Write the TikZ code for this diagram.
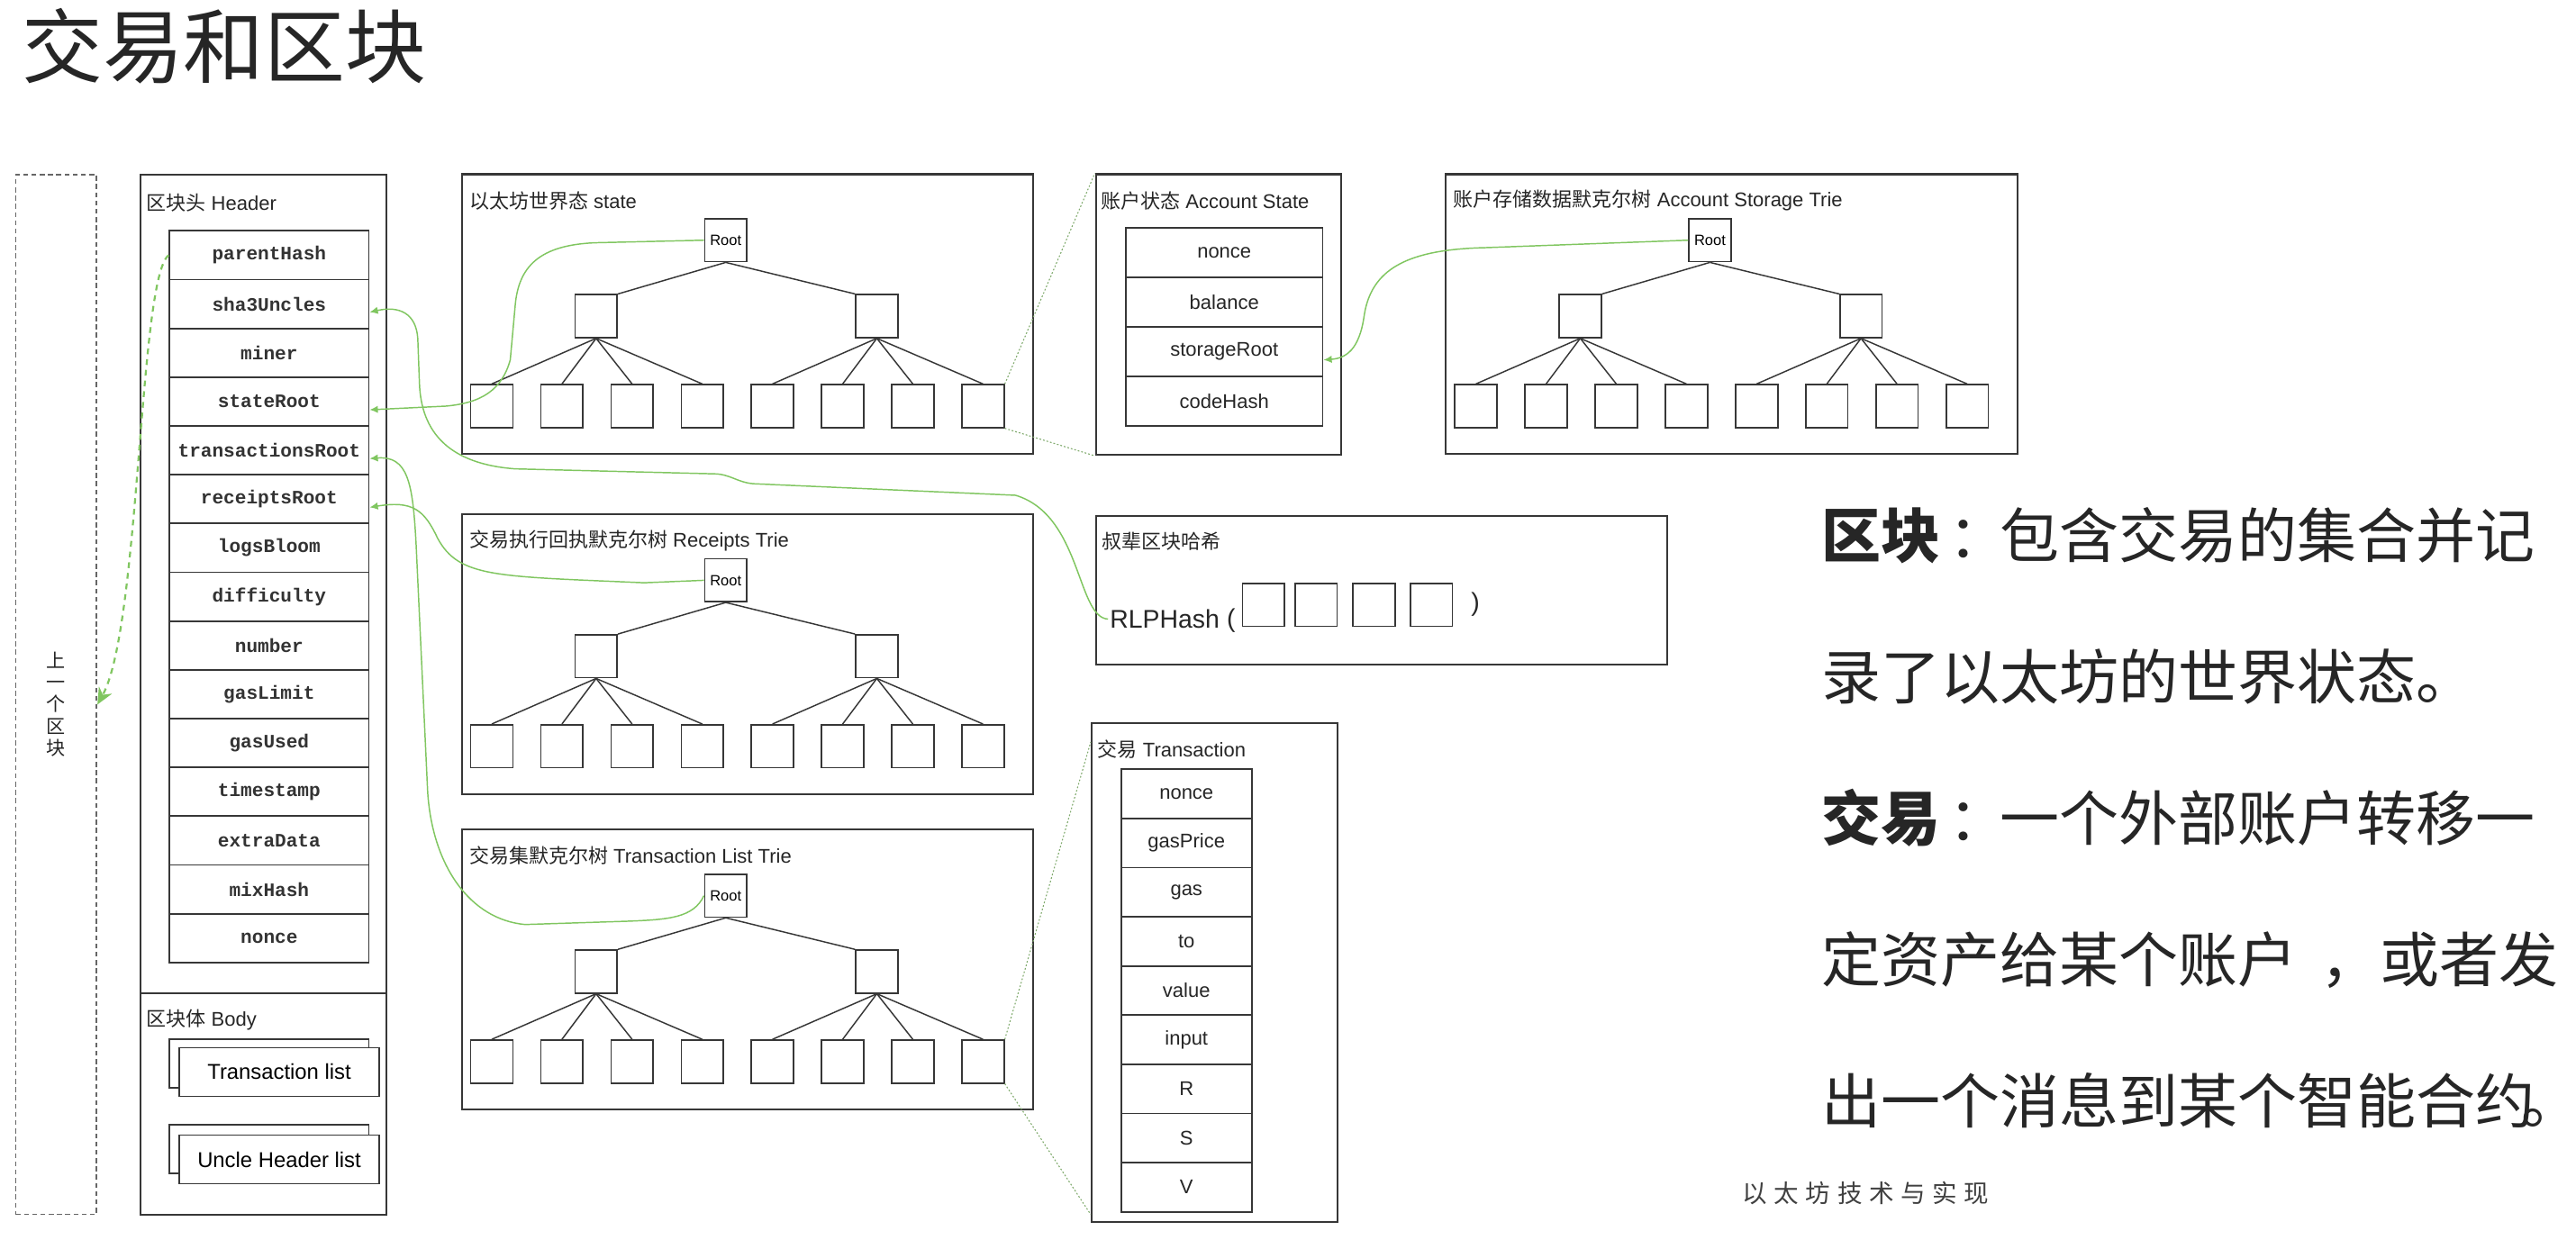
\documentclass[tikz,border=0pt]{standalone}
\usepackage{fontspec}
\setmainfont{Liberation Sans}
\newfontfamily\cjk{Noto Sans CJK SC}
\newfontfamily\hdrmono{Liberation Mono}
\usetikzlibrary{arrows.meta}
\definecolor{inkgray}{RGB}{55,55,55}
\definecolor{linkgreen}{RGB}{128,198,96}

\begin{document}
\begin{tikzpicture}[
        x=1pt, y=-1pt,
        panel/.style={
            draw=inkgray,
            line width=1.1pt,
            inner sep=0pt,
            anchor=north west
        },
        ptitle/.style={
            anchor=west,
            inner sep=0pt,
            text=black!85,
            font=\fontsize{12}{14}\selectfont
        },
        hfield/.style={
            draw=inkgray,
            line width=1pt,
            minimum width=120.7pt,
            minimum height=29.55pt,
            inner sep=0pt,
            text=black!80,
            font=\hdrmono\bfseries\fontsize{11.5}{13}\selectfont
        },
        afield/.style={
            draw=inkgray,
            line width=1pt,
            minimum width=119.2pt,
            minimum height=30pt,
            inner sep=0pt,
            text=black!85,
            font=\fontsize{12}{14}\selectfont
        },
        tfield/.style={
            draw=inkgray,
            line width=1pt,
            minimum width=79pt,
            minimum height=29.78pt,
            inner sep=0pt,
            text=black!85,
            font=\fontsize{12}{14}\selectfont
        },
        tbox/.style={
            draw=inkgray,
            line width=0.9pt,
            minimum width=25.5pt,
            minimum height=26pt,
            inner sep=0pt,
            font=\fontsize{9}{10}\selectfont
        },
        listbox/.style={
            draw=inkgray,
            line width=0.9pt,
            fill=white,
            minimum width=120.8pt,
            minimum height=29.5pt,
            inner sep=0pt,
            font=\fontsize{13}{15}\selectfont
        },
        hashtext/.style={
            inner sep=1pt,
            text=black!85,
            font=\fontsize{15.5}{18}\selectfont
        },
        edge/.style={
            draw=inkgray,
            line width=0.8pt
        },
        link/.style={
            draw=linkgreen,
            line width=0.8pt,
            -{Latex[length=5pt,width=4.5pt]}
        },
        parentlink/.style={
            draw=linkgreen,
            line width=1.2pt,
            dash pattern=on 3.5pt off 3pt,
            -{Stealth[length=10pt,width=9pt]}
        },
        zoomln/.style={
            draw=linkgreen!60!gray,
            line width=0.6pt,
            dash pattern=on 1pt off 1.2pt
        },
        note/.style={
            anchor=base west,
            inner sep=0pt,
            text=black!85,
            font=\cjk\fontsize{36}{36}\selectfont
        }
    ]
        \path[use as bounding box, fill=white] (0,0) rectangle (1560,756.5);

        % Title
        \node[anchor=base west, inner sep=0pt, text=black!85,
              font=\cjk\fontsize{49}{55}\selectfont] (title) at (13,46.5) {交易和区块};

        % ============== Block ==============
        \node[panel, draw=black!60, line width=1pt, dash pattern=on 3pt off 2pt,
              minimum width=49pt, minimum height=629.5pt] (prev) at (9,105.5) {};
        \node[align=center, inner sep=0pt, text=black!85,
              font=\cjk\fontsize{11.5}{13.25}\selectfont] (prev-label) at (33.6,426.5) {上\\一\\个\\区\\块};

        \node[panel, minimum width=149pt, minimum height=495.5pt] (header) at (84.5,105.5) {};
        \node[panel, minimum width=149pt, minimum height=134pt] (body) at (84.5,601) {};
        \node[ptitle] (header-title) at (88.5,123) {{\cjk 区块头} Header};
        \node[ptitle] (body-title) at (88.5,618) {{\cjk 区块体} Body};

        % Header fields
        \foreach \f [count=\i] in {parentHash,sha3Uncles,miner,stateRoot,transactionsRoot,
                receiptsRoot,logsBloom,difficulty,number,gasLimit,gasUsed,timestamp,
                extraData,mixHash,nonce} {
            \node[hfield] (h\i) at (163,{139.8+29.55*(\i-0.5)}) {\f};
        }

        % Body lists
        \node[listbox] (txlist-back) at (163,644.3) {};
        \node[listbox] (txlist) at (169.1,649.3) {Transaction list};
        \node[listbox] (uncles-back) at (163,696) {};
        \node[listbox] (uncles) at (169.1,702.3) {Uncle Header list};

        % ============== Tries ==============
        \foreach \tr/\bx/\by/\ttl in {
                st/279/105/{{\cjk 以太坊世界态} state},
                rc/279/311/{{\cjk 交易执行回执默克尔树} Receipts Trie},
                tx/279/502/{{\cjk 交易集默克尔树} Transaction List Trie},
                sg/875/105/{{\cjk 账户存储数据默克尔树} Account Storage Trie}} {
            \node[panel, minimum width=346pt, minimum height=169.5pt] (\tr-box) at (\bx,\by) {};
            \node[ptitle] (\tr-title) at (\bx+5,\by+16.5) {\ttl};
            \node[tbox] (\tr-root) at (\bx+160.5,\by+40.5) {Root};
            \node[tbox] (\tr-m1) at (\bx+82,\by+86.5) {};
            \node[tbox] (\tr-m2) at (\bx+252,\by+86.5) {};
            \draw[edge] (\tr-root.south) -- (\tr-m1.north east);
            \draw[edge] (\tr-root.south) -- (\tr-m2.north west);
            \foreach \k in {1,...,8} {
                \pgfmathtruncatemacro\mtr{ifthenelse(\k<5,1,2)}
                \node[tbox] (\tr-l\k) at ({\bx+18.8+42.5*(\k-1)},\by+141) {};
                \draw[edge] (\tr-m\mtr.south) -- (\tr-l\k.north);
            }
        }

        % ============== Account ==============
        \node[panel, minimum width=148.6pt, minimum height=170pt] (acct) at (663,105) {};
        \node[ptitle] (acct-title) at (666.5,121.8) {{\cjk 账户状态} Account State};
        \foreach \f [count=\i] in {nonce,balance,storageRoot,codeHash} {
            \node[afield] (a\i) at (741.4,{138+30*(\i-0.5)}) {\f};
        }

        % Uncle hash
        \node[panel, minimum width=346pt, minimum height=90pt] (unc) at (663,312) {};
        \node[ptitle] (unc-title) at (667,328) {\cjk 叔辈区块哈希};
        \node[hashtext, anchor=west] (rlp) at (671,375) {RLPHash};
        \node[hashtext] (rlp-open) at (745.5,376) {(};
        \foreach \k/\ux in {1/765.2,2/797,3/832,4/866.8} {
            \node[tbox] (u\k) at (\ux,366.3) {};
        }
        \node[hashtext] (rlp-close) at (893.5,366) {)};

        % ============== Transaction ==============
        \node[panel, minimum width=149pt, minimum height=302pt] (txn) at (660.5,437.5) {};
        \node[ptitle] (txn-title) at (664.6,453.7) {{\cjk 交易} Transaction};
        \foreach \f [count=\i] in {nonce,gasPrice,gas,to,value,input,R,S,V} {
            \node[tfield] (t\i) at (718.5,{466+29.78*(\i-0.5)}) {\f};
        }

        % ============== Links ==============
        \draw[parentlink] (h1.west) .. controls (84,168) and (85,380) .. ([yshift=-6pt]prev.east);
        \draw[link] (rlp.west) .. controls (652,374) and (655,312) .. (615,300)
            -- (456,293) .. controls (446,292) and (442,287) .. (432,287)
            -- (312,284) .. controls (272,281) and (255,262) .. (254,232)
            -- (253,205) .. controls (252,190) and (242,185) .. ([yshift=-5pt]h2.east);
        \draw[link] (st-root.west) -- (362,147) .. controls (326,148) and (314,162) .. (312,185)
            -- (309,218) .. controls (304,236) and (292,244) .. (270,246) -- ([yshift=-5pt]h4.east);
        \draw[link] (tx-root.west) .. controls (420,556) and (405,557) .. (380,558)
            -- (318,560) .. controls (285,557) and (262,525) .. (259,480)
            -- (252,330) .. controls (250,292) and (247,276) .. ([yshift=-5pt]h5.east);
        \draw[link] (rc-root.west) -- (390,353) .. controls (300,349) and (278,350) .. (265,326)
            .. controls (257,309) and (250,303) .. ([yshift=-5pt]h6.east);
        \draw[link] (sg-root.west) -- (900,150) .. controls (852,151) and (830,163) .. (826,192)
            .. controls (823,212) and (815,217) .. ([yshift=-5pt]a3.east);

        % Zoom lines
        \draw[zoomln] (st-l8.north east) -- (acct.north west);
        \draw[zoomln] (st-l8.south east) -- (acct.south west);
        \draw[zoomln] (tx-l8.north east) -- ([yshift=-12pt]txn.north west);
        \draw[zoomln] (tx-l8.south east) -- ([yshift=5pt]txn.south west);

        % ============== Notes ==============
        \node[note] (d1) at (1103,337.7) {{\bfseries 区块}\hspace{5pt}：\hspace{-5pt}包含交易的集合并记};
        \node[note] (d2) at (1103,423.5) {录了以太坊的世界状态。};
        \node[note] (d3) at (1103,509.2) {{\bfseries 交易}\hspace{5pt}：\hspace{-5pt}一个外部账户转移一};
        \node[note] (d4) at (1103,595) {定资产给某个账户\hspace{14pt}，或者发};
        \node[note] (d5) at (1103,680.7) {出一个消息到某个智能合约\hspace{-8pt}\makebox[0.4em][l]{。}};
        \node[anchor=base west, inner sep=0pt, text=black!75,
              font=\cjk\fontsize{15}{17}\selectfont\addfontfeature{LetterSpace=28}] (credit) at (1055,728.7) {以太坊技术与实现};
    \end{tikzpicture}
\end{document}
